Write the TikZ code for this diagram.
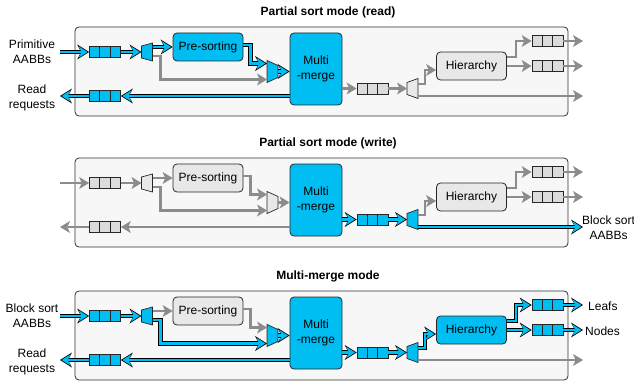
\documentclass[tikz,border=0pt]{standalone}
\usepackage{fontspec}
\setmainfont{Liberation Sans}
\usetikzlibrary{arrows.meta}

\definecolor{hwblue}{RGB}{0,190,242}
\definecolor{linegray}{RGB}{140,140,140}
\definecolor{unitgray}{RGB}{232,232,232}
\definecolor{fifogray}{RGB}{220,220,220}
\definecolor{panelbg}{RGB}{247,247,247}

\begin{document}
\begin{tikzpicture}[x=1pt, y=-1pt, font=\fontsize{12}{15}\selectfont]

% GLOBAL SETTINGS
\tikzset{
  paneltitle/.style={font=\bfseries\fontsize{12}{14}\selectfont},
  panelbox/.style={draw=black!80, fill=panelbg, line width=0.8pt, rounded corners=4pt},
  txt/.style={align=center, inner sep=0pt},
  unit/.style={draw=black!85, line width=0.8pt, rounded corners=4pt, minimum width=70pt, minimum height=28pt, align=center, inner sep=0pt},
  unitA/.style={unit, fill=hwblue},
  unitI/.style={unit, fill=unitgray},
  fifo/.style={draw=black!85, line width=0.7pt, minimum width=31pt, minimum height=11pt, inner sep=0pt,
    path picture={\draw[black!85, line width=0.7pt]
      ([xshift=-5.2pt]path picture bounding box.north) -- ([xshift=-5.2pt]path picture bounding box.south)
      ([xshift=5.2pt]path picture bounding box.north) -- ([xshift=5.2pt]path picture bounding box.south);}},
  fifoA/.style={fifo, fill=hwblue},
  fifoI/.style={fifo, fill=fifogray},
  sel/.style={minimum width=11pt, minimum height=18pt, inner sep=0pt, outer sep=0pt},
  act/.style={draw=black, line width=4.6pt, -{Stealth[length=12pt, width=15pt, inset=4pt, line width=0pt]},
    postaction={draw=hwblue, line width=2.6pt, shorten >=1.6pt,
      -{Stealth[length=9pt, width=11.5pt, inset=3pt, line width=0pt]}}},
  idle/.style={draw=linegray, line width=2.2pt, -{Stealth[length=10pt, width=12pt, inset=2.5pt, line width=0pt]}},
}
\newcommand{\dmxshape}[3]{% node, fill, inset
  \filldraw[fill=#2, draw=black!85, line width=0.7pt] ([yshift=-#3]#1.north west) -- (#1.north east)
    -- (#1.south east) -- ([yshift=#3]#1.south west) -- cycle;}
\newcommand{\muxshape}[3]{% node, fill, inset
  \filldraw[fill=#2, draw=black!85, line width=0.7pt] (#1.north west) -- ([yshift=-#3]#1.north east)
    -- ([yshift=#3]#1.south east) -- (#1.south west) -- cycle;}

\useasboundingbox (0,0) rectangle (634,385);

% PANEL A: partial sort (read)
\begin{scope}
\node[paneltitle] (titleA) at (328,12) {Partial sort mode (read)};
\draw[panelbox] (75,27) rectangle (568,116);
\node[txt] (lblinA) at (32,52) {Primitive\\AABBs};
\node[txt] (lblrdA) at (32,98) {Read\\requests};
\coordinate (inA) at (60,52);
\coordinate (rdA) at (60,96);
\node[fifoA] (qinA) at (105,52) {};
\node[fifoA] (qrdA) at (105,96) {};
\node[sel] (dmxA) at (147,52) {}; \dmxshape{dmxA}{hwblue}{3pt}
\node[unitA] (presA) at (208,47) {Pre-sorting};
\node[sel, minimum height=22pt] (muxA) at (272.5,71.5) {}; \muxshape{muxA}{hwblue}{5pt}
\node[unitA, minimum width=52pt, minimum height=72pt] (mmA) at (316,69) {Multi\\-merge};
\node[fifoI] (qmmA) at (372.5,88.5) {};
\node[sel, minimum height=20pt] (dmx2A) at (412.5,88.5) {}; \dmxshape{dmx2A}{unitgray}{4pt}
\node[unitI] (hierA) at (471.5,66) {Hierarchy};
\node[fifoI] (qh1A) at (547.5,41) {};
\node[fifoI] (qh2A) at (547.5,66) {};
\coordinate (o1A) at (583,41);
\coordinate (o2A) at (583,66);
\coordinate (o3A) at (583,96);
% edges
\draw[idle] ([yshift=-4pt]dmxA.east) -- ++(8,0) |- ([yshift=-8pt]muxA.west);
\draw[act] (inA) -- (qinA);
\draw[act] (qinA) -- (dmxA);
\draw[act] ([yshift=5pt]dmxA.east) -- (presA);
\draw[act] ([yshift=2pt]presA.east) -- ++(7,0) |- ([yshift=8pt]muxA.west);
\draw[act] (muxA) -- (muxA -| mmA.west);
\draw[act] (mmA.west |- qrdA) -- (qrdA);
\draw[act] (qrdA) -- (rdA);
\draw[idle] (mmA.east |- qmmA) -- (qmmA);
\draw[idle] (qmmA) -- (dmx2A);
\draw[idle] ([yshift=4.5pt]dmx2A.east) -- ++(7,0) |- ([yshift=-4pt]hierA.west);
\draw[idle] ([yshift=-7.5pt]dmx2A.east) -- (o3A);
\draw[idle] ([yshift=9pt]hierA.east) -- ++(9,0) |- (qh1A);
\draw[idle] (hierA) -- (qh2A);
\draw[idle] (qh1A) -- (o1A);
\draw[idle] (qh2A) -- (o2A);
\end{scope}

% PANEL B: partial sort (write)
\begin{scope}[shift={(0,131)}]
\node[paneltitle] (titleB) at (328,12) {Partial sort mode (write)};
\draw[panelbox] (75,27) rectangle (568,116);
\coordinate (inB) at (60,52);
\coordinate (rdB) at (60,96);
\node[fifoI] (qinB) at (105,52) {};
\node[fifoI] (qrdB) at (105,96) {};
\node[sel] (dmxB) at (147,52) {}; \dmxshape{dmxB}{unitgray}{3pt}
\node[unitI] (presB) at (208,47) {Pre-sorting};
\node[sel, minimum height=22pt] (muxB) at (272.5,71.5) {}; \muxshape{muxB}{unitgray}{5pt}
\node[unitA, minimum width=52pt, minimum height=72pt] (mmB) at (316,69) {Multi\\-merge};
\node[fifoA] (qmmB) at (372.5,88.5) {};
\node[sel, minimum height=20pt] (dmx2B) at (412.5,88.5) {}; \dmxshape{dmx2B}{hwblue}{4pt}
\node[unitI] (hierB) at (471.5,66) {Hierarchy};
\node[fifoI] (qh1B) at (547.5,41) {};
\node[fifoI] (qh2B) at (547.5,66) {};
\coordinate (o1B) at (583,41);
\coordinate (o2B) at (583,66);
\coordinate (o3B) at (583,96);
\node[txt, anchor=west] (lbloutB) at (582,97) {Block sort\\AABBs};
% edges
\draw[idle] (inB) -- (qinB);
\draw[idle] (qinB) -- (dmxB);
\draw[idle] ([yshift=5pt]dmxB.east) -- (presB);
\draw[idle] ([yshift=-4pt]dmxB.east) -- ++(8,0) |- ([yshift=-8pt]muxB.west);
\draw[idle] ([yshift=2pt]presB.east) -- ++(7,0) |- ([yshift=8pt]muxB.west);
\draw[idle] (muxB) -- (muxB -| mmB.west);
\draw[idle] (mmB.west |- qrdB) -- (qrdB);
\draw[idle] (qrdB) -- (rdB);
\draw[act] (mmB.east |- qmmB) -- (qmmB);
\draw[act] (qmmB) -- (dmx2B);
\draw[idle] ([yshift=4.5pt]dmx2B.east) -- ++(7,0) |- ([yshift=-4pt]hierB.west);
\draw[act] ([yshift=-7.5pt]dmx2B.east) -- (o3B);
\draw[idle] ([yshift=9pt]hierB.east) -- ++(9,0) |- (qh1B);
\draw[idle] (hierB) -- (qh2B);
\draw[idle] (qh1B) -- (o1B);
\draw[idle] (qh2B) -- (o2B);
\end{scope}

% PANEL C: multi-merge
\begin{scope}[shift={(0,264)}]
\node[paneltitle] (titleC) at (328,12) {Multi-merge mode};
\draw[panelbox] (75,27) rectangle (568,116);
\node[txt] (lblinC) at (32,52) {Block sort\\AABBs};
\node[txt] (lblrdC) at (32,98) {Read\\requests};
\coordinate (inC) at (60,52);
\coordinate (rdC) at (60,96);
\node[fifoA] (qinC) at (105,52) {};
\node[fifoA] (qrdC) at (105,96) {};
\node[sel] (dmxC) at (147,52) {}; \dmxshape{dmxC}{hwblue}{3pt}
\node[unitI] (presC) at (208,47) {Pre-sorting};
\node[sel, minimum height=22pt] (muxC) at (272.5,71.5) {}; \muxshape{muxC}{hwblue}{5pt}
\node[unitA, minimum width=52pt, minimum height=72pt] (mmC) at (316,69) {Multi\\-merge};
\node[fifoA] (qmmC) at (372.5,88.5) {};
\node[sel, minimum height=20pt] (dmx2C) at (412.5,88.5) {}; \dmxshape{dmx2C}{hwblue}{4pt}
\node[unitA] (hierC) at (471.5,66) {Hierarchy};
\node[fifoA] (qh1C) at (547.5,41) {};
\node[fifoA] (qh2C) at (547.5,66) {};
\coordinate (o1C) at (583,41);
\coordinate (o2C) at (583,66);
\coordinate (o3C) at (583,96);
\node[txt, anchor=west] (lblleafC) at (588,42) {Leafs};
\node[txt, anchor=west] (lblnodeC) at (585,67) {Nodes};
% edges
\draw[act] (inC) -- (qinC);
\draw[act] (qinC) -- (dmxC);
\draw[idle] ([yshift=5pt]dmxC.east) -- (presC);
\draw[idle] ([yshift=2pt]presC.east) -- ++(7,0) |- ([yshift=8pt]muxC.west);
\draw[act] ([yshift=-4pt]dmxC.east) -- ++(8,0) |- ([yshift=-8pt]muxC.west);
\draw[act] (muxC) -- (muxC -| mmC.west);
\draw[act] (mmC.west |- qrdC) -- (qrdC);
\draw[act] (qrdC) -- (rdC);
\draw[act] (mmC.east |- qmmC) -- (qmmC);
\draw[act] (qmmC) -- (dmx2C);
\draw[idle] ([yshift=-7.5pt]dmx2C.east) -- (o3C);
\draw[act] ([yshift=4.5pt]dmx2C.east) -- ++(7,0) |- ([yshift=-4pt]hierC.west);
\draw[act] ([yshift=9pt]hierC.east) -- ++(9,0) |- (qh1C);
\draw[act] (hierC) -- (qh2C);
\draw[act] (qh1C) -- (o1C);
\draw[act] (qh2C) -- (o2C);
\end{scope}

\end{tikzpicture}
\end{document}
